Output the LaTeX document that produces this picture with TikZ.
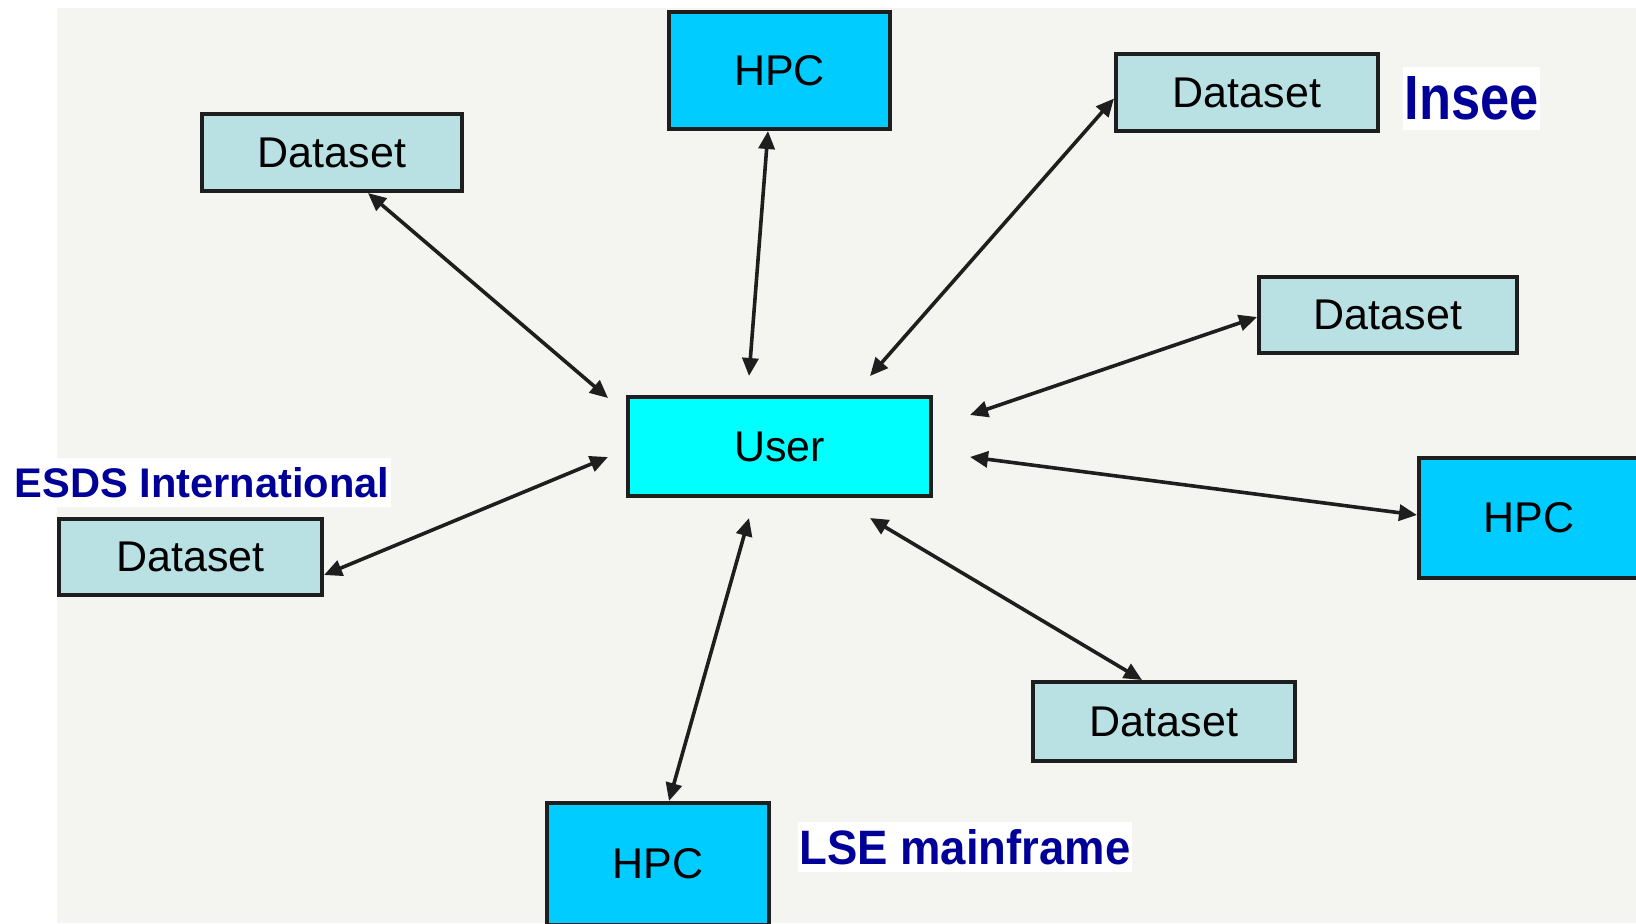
\documentclass[tikz,border=0pt]{standalone}
\usepackage{fontspec}
\setmainfont{Liberation Sans}
\usetikzlibrary{arrows.meta,calc}
\definecolor{paper}{HTML}{F4F5F0}
\definecolor{datafill}{HTML}{B9E0E3}
\definecolor{hpcfill}{HTML}{00CCFF}
\definecolor{userfill}{HTML}{00FFFF}
\definecolor{edge}{HTML}{1E1E1E}
\definecolor{labelblue}{HTML}{000099}
\tikzset{
  box/.style={draw=edge, line width=2pt, inner sep=0pt, text=black,
    font=\fontsize{21.5pt}{26pt}\selectfont},
  databox/.style={box, fill=datafill},
  hpcbox/.style={box, fill=hpcfill},
  userbox/.style={box, fill=userfill},
  site/.style={fill=white, inner sep=0pt, text=labelblue, font=\bfseries},
  link/.style={draw=edge, line width=1.8pt,
    {Triangle[length=9pt,width=8pt]}-{Triangle[length=9pt,width=8pt]}}
}
\begin{document}
\begin{tikzpicture}[x=0.5pt,y=-0.5pt]
  \clip (0,0) rectangle (1636,923);
  \fill[white] (0,0) rectangle (1636,923);
  \fill[paper] (57,8) rectangle (1636,923);

  % central user
  \node[userbox, minimum width=151.5pt, minimum height=49.5pt] (user) at (779.5,446.5) {User};

  % resources around the user
  \node[databox, minimum width=130pt, minimum height=38.5pt] (dtl) at (332,152.5) {Dataset};
  \node[hpcbox, minimum width=110.5pt, minimum height=58.5pt] (htop) at (779.5,70.5) {HPC};
  \node[databox, minimum width=131pt, minimum height=38.5pt] (dtr) at (1247,92.5) {Dataset};
  \node[databox, minimum width=129pt, minimum height=38pt] (dr) at (1388,315) {Dataset};
  \node[hpcbox, minimum width=110pt, minimum height=60pt] (hr) at (1529,518) {HPC};
  \node[databox, minimum width=131pt, minimum height=39.5pt] (dbr) at (1164,721.5) {Dataset};
  \node[hpcbox, minimum width=111pt, minimum height=61pt] (hb) at (658,864) {HPC};
  \node[databox, minimum width=131.5pt, minimum height=38pt] (dl) at (190.5,557) {Dataset};

  % site labels
  \node[site, minimum width=68.5pt, minimum height=31.5pt] (insee) at (1471.5,98.5)
    {\resizebox{67pt}{21.5pt}{Insee}};
  \node[site, minimum width=189pt, minimum height=24.5pt] (esds) at (202,482.5)
    {\resizebox{187.5pt}{15pt}{ESDS International}};
  \node[site, minimum width=167pt, minimum height=25pt] (lse) at (965,847)
    {\resizebox{165.5pt}{17.5pt}{LSE mainframe}};

  % free ends of the links, around the user box
  \coordinate (uTL) at (608,398);
  \coordinate (uT)  at (749,376);
  \coordinate (uTR) at (870,376);
  \coordinate (uR)  at (970,415);
  \coordinate (uHR) at (970,457);
  \coordinate (uBR) at (870,518);
  \coordinate (uB)  at (749,518);
  \coordinate (uL)  at (608,457);

  % two-way links
  \draw[link] ($(dtl.south)+(36,0)$) -- (uTL);
  \draw[link] ($(htop.south)+(-11.5,0)$) -- (uT);
  \draw[link] ($(dtr.west)+(0,6)$) -- (uTR);
  \draw[link] ($(dr.west)+(0,2)$) -- (uR);
  \draw[link] ($(hr.west)+(0,-3)$) -- (uHR);
  \draw[link] ($(dbr.north)+(-22,0)$) -- (uBR);
  \draw[link] ($(hb.north)+(11,0)$) -- (uB);
  \draw[link] ($(dl.east)+(0,18)$) -- (uL);
\end{tikzpicture}
\end{document}
